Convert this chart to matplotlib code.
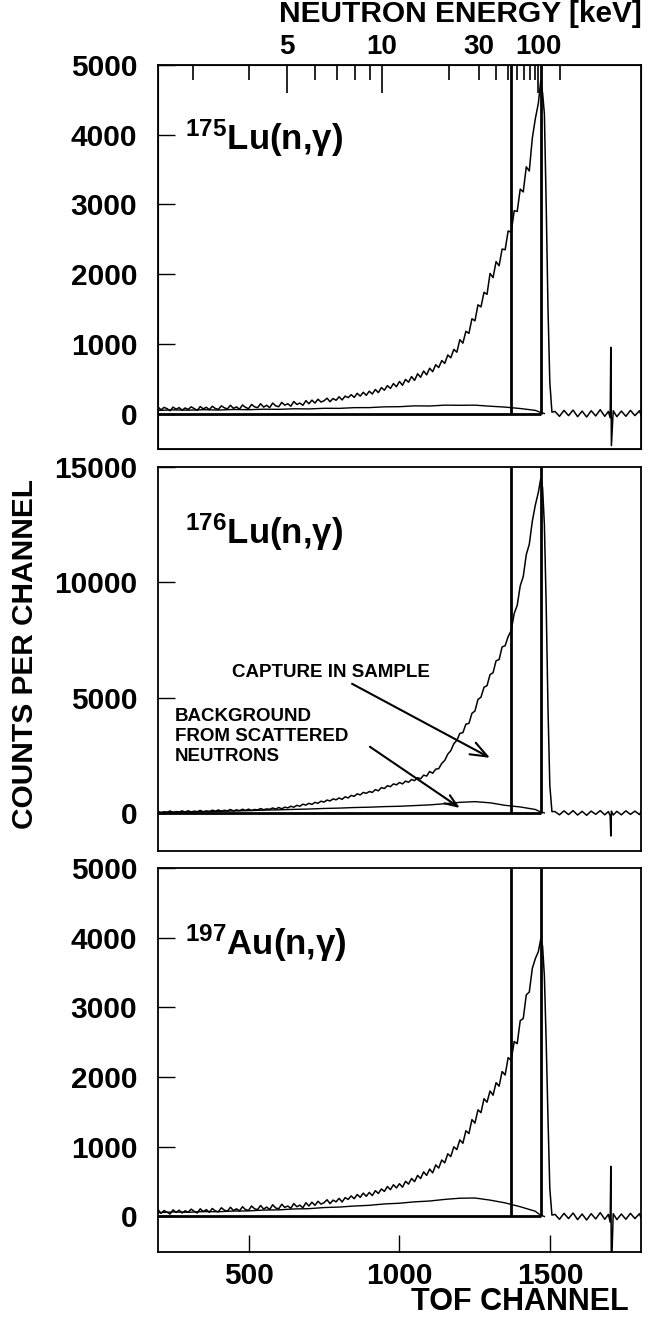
import numpy as np
import matplotlib
matplotlib.use("Agg")
import matplotlib.pyplot as plt
from matplotlib.ticker import FixedFormatter

plt.rcParams['font.family'] = ['Liberation Sans', 'DejaVu Sans']
plt.rcParams['font.weight'] = 'bold'
plt.rcParams['mathtext.default'] = 'regular'

# TOF channel grids
grid_ch = np.arange(200, 1451, 10)
peak_ch = [1460, 1468, 1474, 1480, 1486, 1492, 1498, 1505]
tail_ch = [1515, 1530, 1545, 1560, 1575, 1590, 1605, 1620, 1635, 1650, 1665, 1680,
           1692, 1698, 1700, 1702, 1708, 1720, 1735, 1750, 1765, 1780, 1795, 1800]
bg_ch = list(range(200, 1451, 50)) + [1465, 1480]

# 175Lu capture (read every 10 channels)
lu175_grid = [95, 52, 88, 70, 40, 92, 61, 85, 48, 80,
              58, 96, 70, 45, 100, 66, 90, 55, 104, 72,
              60, 110, 82, 66, 118, 74, 95, 62, 122, 88,
              70, 130, 96, 84, 140, 92, 118, 85, 150, 110,
              98, 160, 120, 140, 105, 172, 130, 150, 118, 185,
              140, 192, 150, 205, 165, 182, 220, 170, 215, 190,
              240, 195, 250, 228, 270, 232, 290, 250, 305, 262,
              320, 280, 345, 300, 372, 335, 400, 360, 430, 385,
              460, 405, 490, 450, 530, 475, 570, 520, 610, 555,
              650, 600, 700, 660, 760, 720, 840, 800, 920, 880,
              1060, 1010, 1180, 1150, 1360, 1330, 1560, 1530, 1740, 1710,
              2010, 1950, 2180, 2120, 2360, 2350, 2620, 2600, 2910, 2900,
              3220, 3180, 3540, 3480, 3950, 4230]
lu175_peak = [4450, 4780, 4600, 4300, 3000, 1500, 450, 20]
lu175_tail = [30, -40, 45, -30, 50, -45, 35, -50, 40, -35, 55, -40, 30, -60, 950, -460,
              40, -45, 35, -40, 45, -30, 40, -20]
lu175_bg = [45, 52, 48, 55, 50, 58, 55, 62, 60, 68, 66, 75, 74, 84, 85, 96, 98, 110, 108,
            120, 118, 120, 105, 92, 72, 45, 20, 0]

# 176Lu capture
lu176_grid = [70, 15, 55, 30, 85, 20, 60, 40, 90, 35,
              95, 40, 80, 55, 110, 45, 90, 60, 120, 70,
              130, 75, 115, 90, 150, 85, 135, 100, 160, 110,
              165, 110, 150, 130, 190, 140, 175, 160, 215, 170,
              235, 180, 250, 220, 290, 250, 330, 290, 380, 340,
              420, 370, 460, 420, 510, 470, 560, 520, 610, 570,
              650, 590, 700, 650, 760, 720, 830, 780, 890, 850,
              930, 890, 1010, 960, 1100, 1060, 1180, 1140, 1260, 1220,
              1320, 1260, 1380, 1330, 1450, 1400, 1530, 1480, 1640, 1600,
              1800, 1720, 1900, 1920, 2150, 2280, 2550, 2700, 3000, 3150,
              3450, 3480, 3850, 3880, 4320, 4420, 4920, 5020, 5450, 5520,
              6000, 6080, 6600, 6650, 7200, 7250, 7650, 7900, 8650, 9000,
              9850, 10250, 11200, 11650, 12650, 13350]
lu176_peak = [13900, 14500, 14100, 12500, 9000, 4500, 1200, 60]
lu176_tail = [60, -80, 90, -70, 100, -90, 70, -100, 80, -60, 100, -80, 60, -120, -1000, 80,
              -90, 70, -80, 90, -60, 80, -70, 40]
lu176_bg = [20, 35, 45, 60, 70, 85, 100, 120, 135, 155, 170, 195, 210, 235, 250, 275, 290,
            320, 350, 400, 460, 490, 440, 330, 260, 150, 60, 0]

# 197Au capture
au197_grid = [100, 45, 85, 62, 35, 95, 58, 90, 50, 82,
              60, 105, 75, 50, 110, 70, 98, 60, 115, 78,
              68, 125, 90, 75, 132, 85, 110, 80, 140, 98,
              88, 150, 110, 98, 158, 105, 135, 100, 168, 122,
              110, 175, 130, 150, 118, 185, 140, 162, 125, 198,
              150, 205, 160, 218, 178, 198, 240, 185, 235, 210,
              260, 208, 270, 245, 295, 255, 315, 275, 335, 290,
              345, 300, 370, 330, 395, 360, 430, 385, 455, 410,
              470, 420, 505, 465, 545, 500, 590, 545, 640, 590,
              680, 625, 740, 695, 810, 770, 900, 860, 1000, 960,
              1100, 1050, 1230, 1190, 1390, 1340, 1530, 1490, 1690, 1640,
              1800, 1740, 1920, 1870, 2080, 2030, 2280, 2240, 2510, 2480,
              2810, 2840, 3180, 3220, 3560, 3700]
au197_peak = [3800, 3980, 3880, 3450, 2500, 1400, 400, 20]
au197_tail = [30, -40, 45, -30, 50, -45, 35, -50, 40, -35, 55, -40, 30, -80, 720, -820,
              40, -45, 35, -40, 45, -30, 40, -20]
au197_bg = [55, 65, 60, 70, 68, 78, 80, 92, 95, 108, 112, 128, 135, 150, 160, 180, 190, 210,
            222, 245, 262, 265, 235, 195, 140, 75, 25, 0]

# window markers (channels)
markers = [1370, 1470]

panels = [
    (r'$^{175}$Lu(n,γ)', lu175_grid, lu175_peak, lu175_tail, lu175_bg, (-510, 5000), [0, 1000, 2000, 3000, 4000, 5000], 0.779),
    (r'$^{176}$Lu(n,γ)', lu176_grid, lu176_peak, lu176_tail, lu176_bg, (-1650, 15000), [0, 5000, 10000, 15000], 0.80),
    (r'$^{197}$Au(n,γ)', au197_grid, au197_peak, au197_tail, au197_bg, (-510, 5000), [0, 1000, 2000, 3000, 4000, 5000], 0.773),
]

# neutron energy scale on top
energy_major = [5, 10, 100]
energy_minor = [3, 4, 6, 7, 8, 9, 20, 30, 40, 50, 60, 70, 80, 90, 200]


def energy_to_channel(e):
    return 1700 - 758 * np.sqrt(10.0 / np.asarray(e, dtype=float))


fig = plt.figure(figsize=(6.52, 13.2), dpi=100)
bottoms = [0.6598, 0.3553, 0.0515]
axes = []
for (label, grid, peak, tail, bg, ylim, yticks, ly), b in zip(panels, bottoms):
    ax = fig.add_axes([0.2423, b, 0.7408, 0.2909])
    ch = np.concatenate([grid_ch, peak_ch, tail_ch])
    vals = np.concatenate([grid, peak, tail])
    ax.plot(ch, vals, color='k', lw=1.1)
    ax.plot(bg_ch, bg, color='k', lw=1.0)
    ax.hlines(0, 200, markers[-1], color='k', lw=2)
    ax.vlines(markers, 0, ylim[1], color='k', lw=2)
    ax.set_xlim(200, 1800)
    ax.set_ylim(*ylim)
    ax.set_yticks(yticks)
    ax.tick_params(axis='y', direction='in', length=12, width=1, labelsize=21.5, pad=15, right=False)
    if b > 0.06:
        ax.set_xticks([])
    else:
        ax.set_xticks([500, 1000, 1500])
        ax.tick_params(axis='x', direction='in', length=12, width=1, labelsize=21.5, pad=7, top=False)
    for s in ax.spines.values():
        s.set_linewidth(1.3)
    ax.text(0.056, ly, label, transform=ax.transAxes, fontsize=25, fontweight='bold',
            va='baseline', ha='left')
    axes.append(ax)

# top energy axis
top = axes[0].twiny()
top.set_xlim(axes[0].get_xlim())
top.set_xticks(energy_to_channel(energy_major))
top.set_xticklabels([str(e) for e in energy_major])
top.set_xticks(energy_to_channel(energy_minor), minor=True)
top.xaxis.set_minor_formatter(FixedFormatter(['30' if e == 30 else '' for e in energy_minor]))
top.tick_params(axis='x', which='major', direction='in', length=20, width=1.2, labelsize=20, pad=4)
top.tick_params(axis='x', which='minor', direction='in', length=11, width=1.2, labelsize=20, pad=4)

# annotations in the 176Lu panel
ax2 = axes[1]
ax2.annotate('CAPTURE IN SAMPLE', xy=(1300, 2390), xytext=(1101, 6090),
             fontsize=13.5, fontweight='bold', ha='right', va='center',
             arrowprops=dict(arrowstyle='->,head_length=0.9,head_width=0.35', color='k', lw=1.5,
                             shrinkA=0, shrinkB=0))
ax2.text(256, 4565, 'BACKGROUND\nFROM SCATTERED\nNEUTRONS', fontsize=13.5, fontweight='bold',
         ha='left', va='top', linespacing=1.25)
ax2.annotate('', xy=(1200, 217), xytext=(902, 2870),
             arrowprops=dict(arrowstyle='->,head_length=0.9,head_width=0.35', color='k', lw=1.5,
                             shrinkA=0, shrinkB=0))

fig.text(25 / 652, 1 - 654 / 1320, 'COUNTS PER CHANNEL', rotation=90, fontsize=21.5,
         fontweight='bold', ha='center', va='center')
fig.text(520 / 652, 1 - 1302 / 1320, 'TOF CHANNEL', fontsize=22, fontweight='bold',
         ha='center', va='center')
fig.text(460 / 652, 1 - 22 / 1320, 'NEUTRON ENERGY [keV]', fontsize=21.5, fontweight='bold',
         ha='center', va='baseline')

fig.savefig('out.png', dpi=100)
